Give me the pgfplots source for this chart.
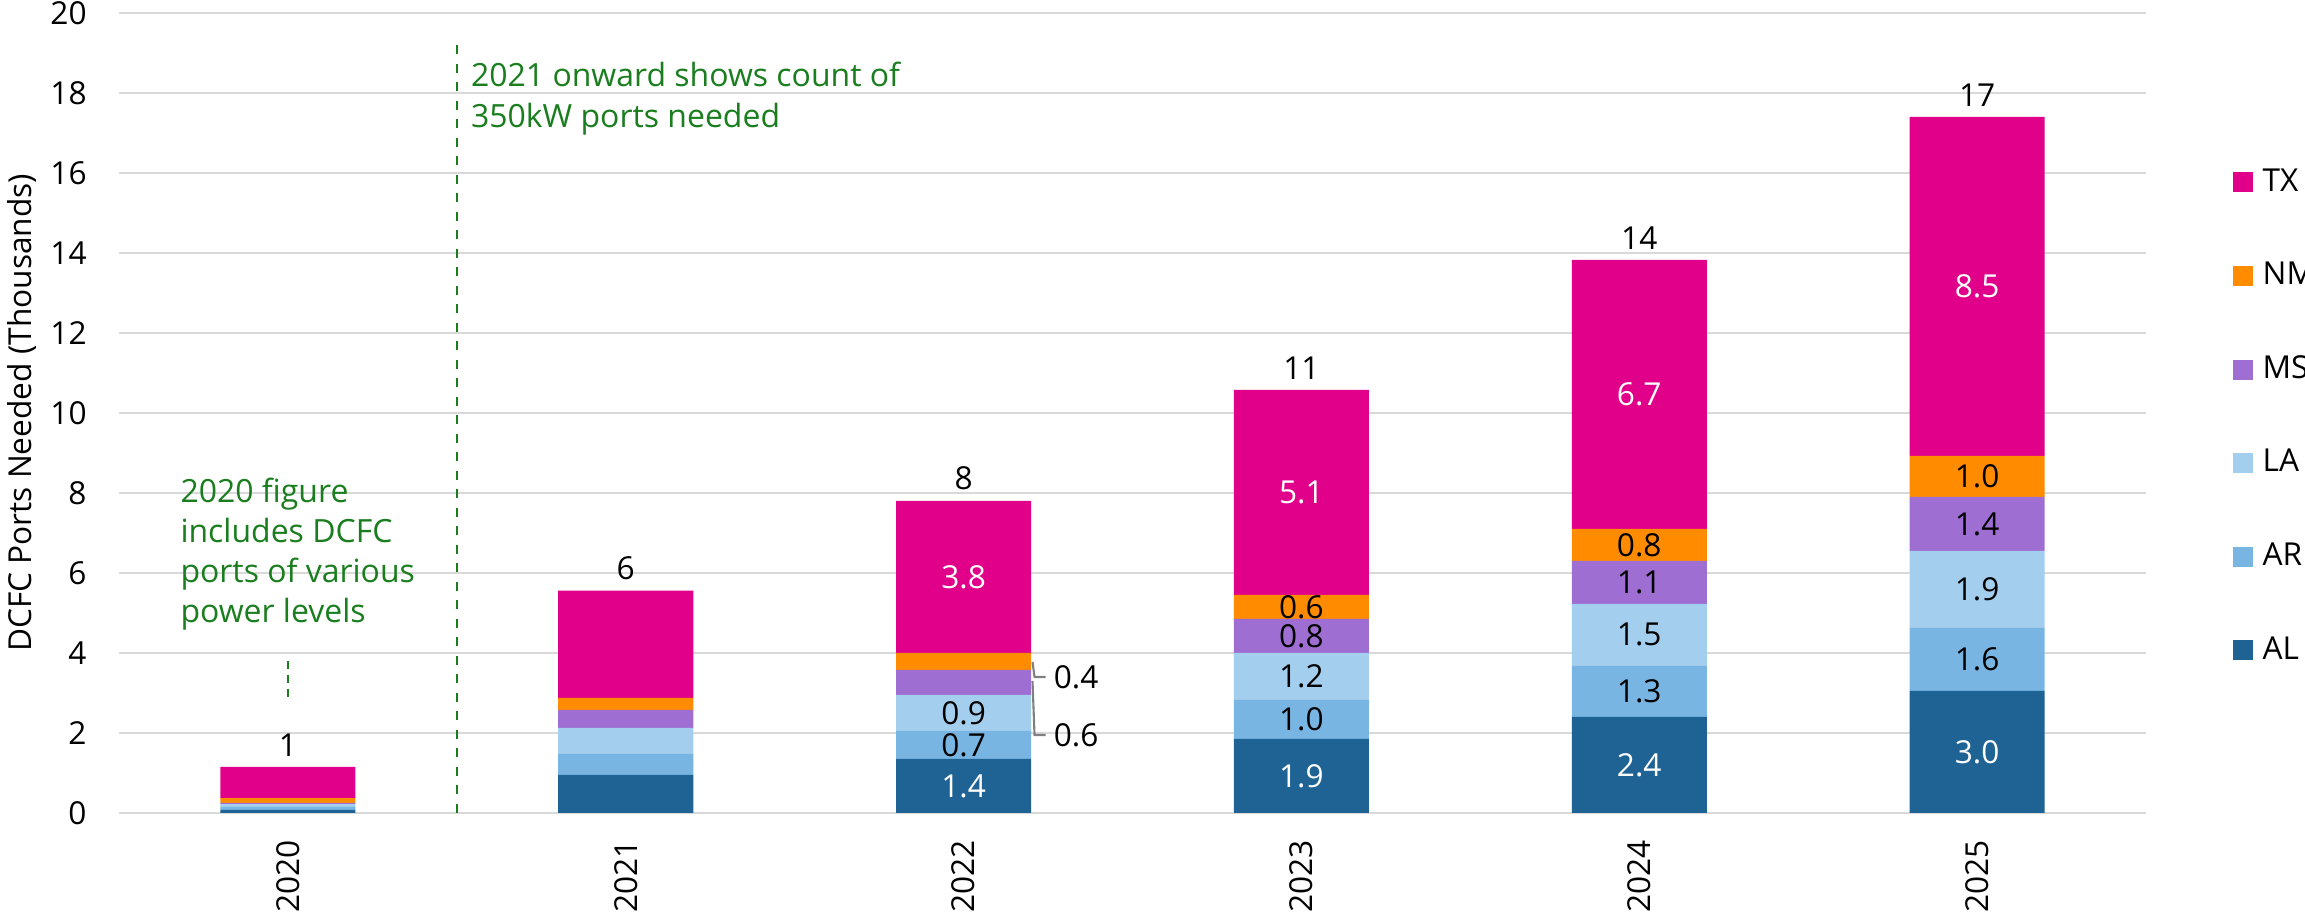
\documentclass[border=0pt]{standalone}
\usepackage{pgfplots}
\pgfplotsset{compat=1.18}
\usepackage{fontspec}
\setmainfont{Open Sans}

\definecolor{cAL}{RGB}{31,99,148}
\definecolor{cAR}{RGB}{120,181,226}
\definecolor{cLA}{RGB}{164,206,238}
\definecolor{cMS}{RGB}{158,110,211}
\definecolor{cNM}{RGB}{255,140,0}
\definecolor{cTX}{RGB}{224,0,138}
\definecolor{note}{RGB}{26,125,30}
\definecolor{gridc}{RGB}{217,217,217}

\begin{document}
\begin{tikzpicture}[font=\fontsize{9}{11}\selectfont,
    lbl/.style={inner sep=0pt},
    wlbl/.style={inner sep=0pt, text=white},
    tot/.style={anchor=south, inner sep=0pt, yshift=0.1cm}]
\useasboundingbox (-1.19,-1.03) rectangle (21.86,8.13);
\begin{axis}[
    scale only axis,
    width=20.27cm, height=8cm,
    xmin=-0.5, xmax=5.5,
    ymin=0, ymax=20,
    ybar stacked,
    bar width=1.35cm,
    xtick={0,1,2,3,4,5},
    xticklabels={2020,2021,2022,2023,2024,2025},
    ytick={0,2,...,20},
    axis line style={draw=none},
    major tick length=0pt,
    ymajorgrids,
    grid style={draw=gridc, line width=0.8pt},
    xticklabel style={rotate=90, anchor=east, xshift=-0.15cm},
    yticklabel style={anchor=east, xshift=-0.2cm},
    /pgf/number format/assume math mode=true,
    ylabel={DCFC Ports Needed (Thousands)},
    ylabel style={at={(axis description cs:-0.048,0.5)}, anchor=center},
    clip=false,
    reverse legend,
    legend style={at={(rel axis cs:1.0424,0.8475)}, anchor=north west,
        draw=none, fill=none, inner sep=0pt, row sep=0pt, column sep=0.1cm,
        nodes={inner sep=0pt, minimum height=0.936cm, anchor=west}},
    legend image code/.code={\fill[#1] (0cm,-0.1cm) rectangle (0.2cm,0.1cm);},
]
% AL
\addplot[fill=cAL, draw=none] coordinates {(0,0.08) (1,0.95) (2,1.35) (3,1.85) (4,2.40) (5,3.05)};
\addlegendentry{AL}
% AR
\addplot[fill=cAR, draw=none] coordinates {(0,0.07) (1,0.53) (2,0.70) (3,0.98) (4,1.28) (5,1.58)};
\addlegendentry{AR}
% LA
\addplot[fill=cLA, draw=none] coordinates {(0,0.07) (1,0.65) (2,0.90) (3,1.17) (4,1.55) (5,1.92)};
\addlegendentry{LA}
% MS
\addplot[fill=cMS, draw=none] coordinates {(0,0.03) (1,0.45) (2,0.63) (3,0.85) (4,1.07) (5,1.35)};
\addlegendentry{MS}
% NM
\addplot[fill=cNM, draw=none] coordinates {(0,0.12) (1,0.30) (2,0.42) (3,0.60) (4,0.80) (5,1.03)};
\addlegendentry{NM}
% TX
\addplot[fill=cTX, draw=none] coordinates {(0,0.78) (1,2.68) (2,3.80) (3,5.13) (4,6.73) (5,8.47)};
\addlegendentry{TX}
\end{axis}

% labels, drawn over the bars; this scope has the axis's units
% (x from -0.5 to 5.5 over 20.27cm, y from 0 to 20 over 8cm)
\begin{scope}[shift={(1.68917cm,0)}, x=3.37833cm, y=0.4cm]
% totals
\node[tot] at (0,1.15) {1};
\node[tot] at (1,5.56) {6};
\node[tot] at (2,7.80) {8};
\node[tot] at (3,10.58) {11};
\node[tot] at (4,13.83) {14};
\node[tot] at (5,17.40) {17};

% segment labels
\node[wlbl] at (2,0.675) {1.4};
\node[lbl]  at (2,1.70) {0.7};
\node[lbl]  at (2,2.50) {0.9};
\node[wlbl] at (2,5.90) {3.8};

\node[wlbl] at (3,0.925) {1.9};
\node[lbl]  at (3,2.34) {1.0};
\node[lbl]  at (3,3.415) {1.2};
\node[lbl]  at (3,4.425) {0.8};
\node[lbl]  at (3,5.15) {0.6};
\node[wlbl] at (3,8.015) {5.1};

\node[wlbl] at (4,1.20) {2.4};
\node[lbl]  at (4,3.04) {1.3};
\node[lbl]  at (4,4.455) {1.5};
\node[lbl]  at (4,5.765) {1.1};
\node[lbl]  at (4,6.70) {0.8};
\node[wlbl] at (4,10.465) {6.7};

\node[wlbl] at (5,1.525) {3.0};
\node[lbl]  at (5,3.84) {1.6};
\node[lbl]  at (5,5.59) {1.9};
\node[lbl]  at (5,7.225) {1.4};
\node[lbl]  at (5,8.415) {1.0};
\node[wlbl] at (5,13.165) {8.5};

% leader lines for 2022 small segments
\draw[gray, line width=0.6pt] (2.204,3.78) -- (2.21,3.40) -- (2.243,3.40);
\draw[gray, line width=0.6pt] (2.204,3.30) -- (2.21,1.95) -- (2.243,1.95);
\node[lbl, anchor=west] at (2.265,3.40) {0.4};
\node[lbl, anchor=west] at (2.265,1.95) {0.6};

% annotations
\draw[note, line width=0.7pt, dash pattern=on 0.09cm off 0.095cm] (0.5,0) -- (0.5,19.4);
\draw[note, line width=0.7pt, dash pattern=on 0.08cm off 0.06cm] (0,3.8) -- (0,2.8);
\node[note, anchor=north west, inner sep=0pt, align=left, font=\fontsize{9.1}{11.4}\selectfont]
  at (0.54,18.78) {2021 onward shows count of\\350kW ports needed};
\node[note, anchor=north west, inner sep=0pt, align=left, font=\fontsize{9.1}{11.4}\selectfont]
  at (-0.32,8.4) {2020 figure\\includes DCFC\\ports of various\\power levels};
\end{scope}
\end{tikzpicture}
\end{document}
